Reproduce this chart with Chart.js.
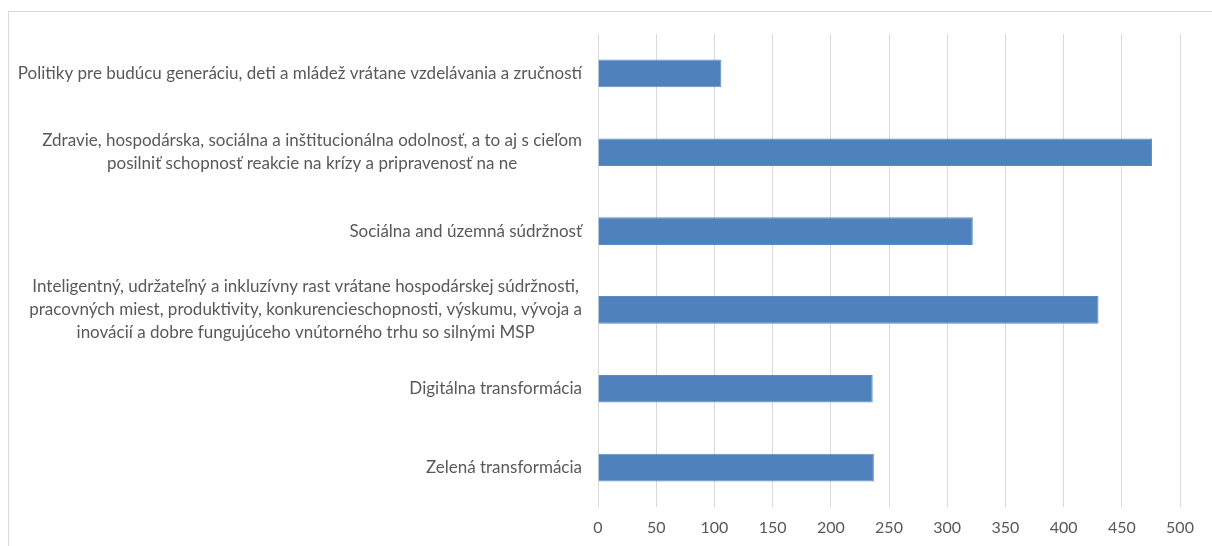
<!DOCTYPE html>
<html lang="sk">
<head>
  <meta charset="UTF-8" />
  <title>Oblasti politiky</title>
  <script src="https://cdn.jsdelivr.net/npm/chart.js"></script>
  <style>
    html, body { margin: 0; padding: 0; background: #fff; overflow: hidden; }
    .frame { position: absolute; left: 8px; top: 11px; width: 1400px; height: 700px; border: 1px solid #d9d9d9; }
    .wrap { position: absolute; left: 0; top: 0; width: 1212px; height: 546px; }
  </style>
</head>
<body>
<div class="frame"></div>
<div class="wrap"><canvas id="chart"></canvas></div>

<script>
  // categories, top to bottom (each entry = label lines)
  const categories = [
    ['Politiky pre budúcu generáciu, deti a mládež vrátane vzdelávania a zručností'],
    ['Zdravie, hospodárska, sociálna a inštitucionálna odolnosť, a to aj s cieľom',
     'posilniť schopnosť reakcie na krízy a pripravenosť na ne'],
    ['Sociálna and územná súdržnosť'],
    ['Inteligentný, udržateľný a inkluzívny rast vrátane hospodárskej súdržnosti,',
     'pracovných miest, produktivity, konkurencieschopnosti, výskumu, vývoja a',
     'inovácií a dobre fungujúceho vnútorného trhu so silnými MSP'],
    ['Digitálna transformácia'],
    ['Zelená transformácia']
  ];
  const values = [106, 476, 322, 430, 236, 237];
  const xMin = 0, xMax = 500, xStep = 50;

  const labelFont = '17px Lato';
  const textColor = '#595959';

  // category labels: block right-aligned to the axis, lines centred inside the block
  const catLabels = {
    id: 'catLabels',
    afterDraw(chart) {
      const ctx = chart.ctx, y = chart.scales.y;
      const right = chart.chartArea.left - 16, lh = 23;
      ctx.save();
      ctx.font = labelFont;
      ctx.fillStyle = textColor;
      ctx.textAlign = 'center';
      ctx.textBaseline = 'middle';
      categories.forEach((lines, i) => {
        const w = Math.max(...lines.map(l => ctx.measureText(l).width));
        const cx = right - w / 2;
        const cy = y.getPixelForValue(i);
        lines.forEach((l, j) => {
          ctx.fillText(l, cx, cy + (j - (lines.length - 1) / 2) * lh);
        });
      });
      ctx.restore();
    }
  };

  new Chart(document.getElementById('chart'), {
    type: 'bar',
    data: {
      labels: categories,
      datasets: [{
        data: values,
        backgroundColor: '#4f81bd',
        borderColor: '#5b8bc4',
        borderWidth: 1,
        categoryPercentage: 1,
        barPercentage: 0.35
      }]
    },
    options: {
      indexAxis: 'y',
      responsive: true,
      maintainAspectRatio: false,
      animation: false,
      layout: { padding: { top: 34, right: 32, bottom: 0, left: 0 } },
      plugins: { legend: { display: false }, tooltip: { enabled: false } },
      scales: {
        x: {
          min: xMin, max: xMax,
          ticks: { stepSize: xStep, color: textColor, font: { family: 'Lato', size: 16 }, padding: 11, maxRotation: 0 },
          grid: { color: '#d9d9d9', drawTicks: false },
          border: { display: false },
          afterFit: s => { s.height = 39; }
        },
        y: {
          ticks: { display: false },
          grid: { display: false },
          border: { display: false },
          afterFit: s => { s.width = 598; }
        }
      }
    },
    plugins: [catLabels]
  });
</script>
</body>
</html>
